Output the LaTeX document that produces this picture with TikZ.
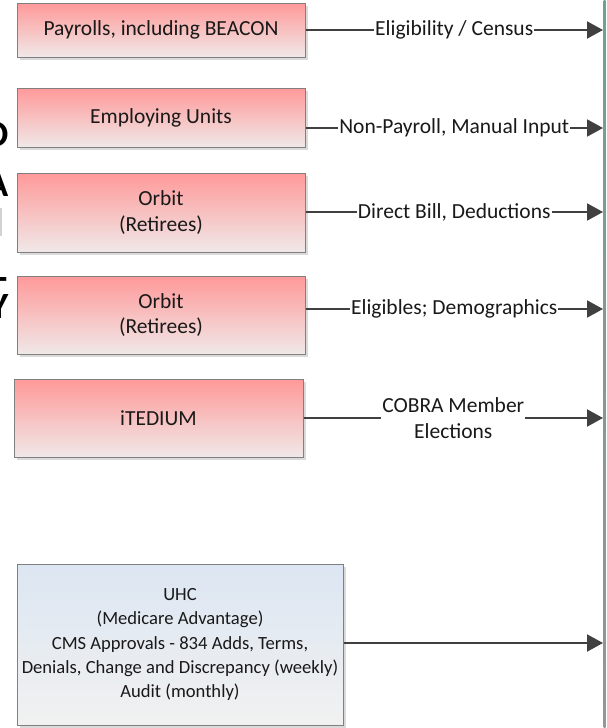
\documentclass[tikz,border=0pt]{standalone}
\usepackage{fontspec}
\setmainfont{Carlito}
\usetikzlibrary{arrows.meta,shadows}

\definecolor{boxtop}{RGB}{255,153,153}
\definecolor{boxbot}{RGB}{240,232,232}
\definecolor{uhctop}{RGB}{220,230,242}
\definecolor{uhcbot}{RGB}{241,241,241}
\definecolor{edge}{RGB}{128,128,128}
\definecolor{flow}{RGB}{64,64,64}
\definecolor{shade}{RGB}{218,218,218}
\definecolor{railtop}{RGB}{112,160,148}
\definecolor{railbot}{RGB}{150,150,150}

\tikzset{
  sysbox/.style={draw=edge, line width=1pt, rectangle, align=center,
    top color=boxtop, bottom color=boxbot, inner sep=0pt,
    drop shadow={shadow xshift=3pt, shadow yshift=-3pt, fill=shade, opacity=1},
    font=\fontsize{21.5pt}{25.7pt}\selectfont, text=black!90},
  carrierbox/.style={sysbox, top color=uhctop, bottom color=uhcbot,
    font=\fontsize{18.6pt}{24.2pt}\selectfont},
  feed/.style={draw=flow, line width=2pt, -{Triangle[length=16pt,width=17pt]}},
  feedlabel/.style={fill=white, inner xsep=1pt, inner ysep=1pt, align=center,
    font=\fontsize{21.5pt}{25.7pt}\selectfont, text=black!90},
  bigletter/.style={anchor=base east, inner sep=0pt,
    font=\fontsize{37pt}{40pt}\selectfont\bfseries}
}

\begin{document}
\begin{tikzpicture}[x=1pt, y=-1pt]
  \useasboundingbox (0,0) rectangle (606,728);
  \clip (0,0) rectangle (606,728);
  \fill[white] (0,0) rectangle (606,728);

  % receiving system edge on the right
  \shade[top color=railtop, bottom color=railbot] (603.5,0) rectangle (605.5,728);

  % ends of large heading letters running off the left edge
  \node[bigletter] (hO) at (8.5,146) {O};
  \node[bigletter] (hA) at (8.5,196) {A};
  \fill[gray!35] (0,208) rectangle (2,236);
  \node[bigletter] (hT) at (7,301) {T};
  \node[bigletter] (hY) at (8.5,318) {Y};

  % source systems
  \node[sysbox, minimum width=288pt, minimum height=54pt] (pay) at (161,30)
    {Payrolls, including BEACON};
  \node[sysbox, minimum width=288pt, minimum height=59pt] (emp) at (161,117.5)
    {Employing Units};
  \node[sysbox, minimum width=288pt, minimum height=79pt] (orb1) at (161,212.5)
    {Orbit\\(Retirees)};
  \node[sysbox, minimum width=288pt, minimum height=78pt] (orb2) at (161,315)
    {Orbit\\(Retirees)};
  \node[sysbox, minimum width=289pt, minimum height=78pt] (ited) at (158.5,418)
    {iTEDIUM};
  \node[carrierbox, minimum width=326pt, minimum height=161pt] (uhc) at (180,644.5)
    {UHC\\(Medicare Advantage)\\CMS Approvals - 834 Adds, Terms,\\Denials, Change and Discrepancy (weekly)\\Audit (monthly)};

  % arrow targets on the receiving edge
  \coordinate (t1) at (603,30);
  \coordinate (t2) at (603,128);
  \coordinate (t3) at (603,212);
  \coordinate (t4) at (603,309);
  \coordinate (t5) at (603,418);
  \coordinate (t6) at (603,643);

  % data feeds
  \draw[feed] (pay.east |- t1) -- node[feedlabel] {Eligibility / Census} (t1);
  \draw[feed] (emp.east |- t2) -- node[feedlabel] {Non-Payroll, Manual Input} (t2);
  \draw[feed] (orb1.east |- t3) -- node[feedlabel] {Direct Bill, Deductions} (t3);
  \draw[feed] (orb2.east |- t4) -- node[feedlabel] {Eligibles; Demographics} (t4);
  \draw[feed] (ited.east |- t5) -- node[feedlabel] {COBRA Member\\Elections} (t5);
  \draw[feed] (uhc.east |- t6) -- (t6);
\end{tikzpicture}
\end{document}
